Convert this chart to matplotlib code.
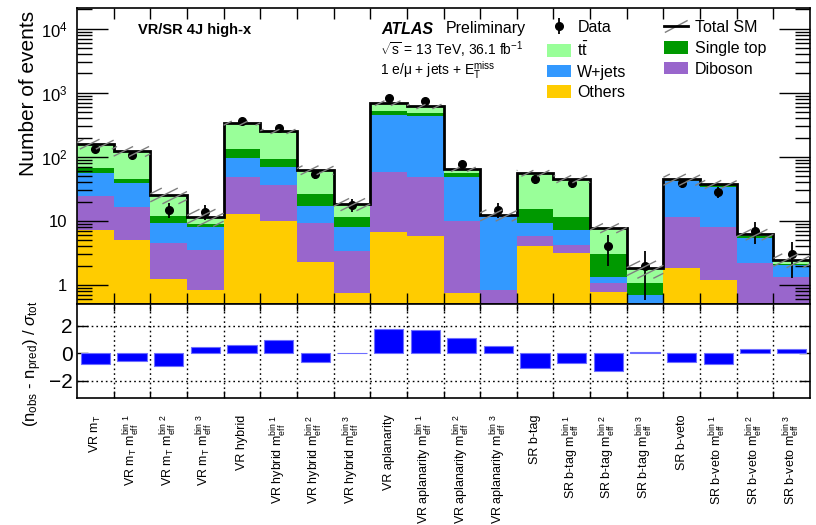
import numpy as np
import matplotlib
matplotlib.use('Agg')
import matplotlib.pyplot as plt
from matplotlib.patches import Patch
from matplotlib.lines import Line2D
from matplotlib.collections import LineCollection
from matplotlib.transforms import IdentityTransform
from matplotlib.ticker import LogLocator, FixedLocator, NullFormatter
from matplotlib.legend_handler import HandlerBase

plt.rcParams['font.family'] = ['Liberation Sans', 'DejaVu Sans']
plt.rcParams['mathtext.fontset'] = 'custom'
plt.rcParams['mathtext.rm'] = 'Liberation Sans'
plt.rcParams['mathtext.it'] = 'Liberation Sans:italic'
plt.rcParams['mathtext.bf'] = 'Liberation Sans:bold'

# ---------------- data ----------------
categories = [
    r'VR m$_{\mathrm{T}}$',
    r'VR m$_{\mathrm{T}}$ m$_{\mathrm{eff}}^{\mathrm{bin\ 1}}$',
    r'VR m$_{\mathrm{T}}$ m$_{\mathrm{eff}}^{\mathrm{bin\ 2}}$',
    r'VR m$_{\mathrm{T}}$ m$_{\mathrm{eff}}^{\mathrm{bin\ 3}}$',
    'VR hybrid',
    r'VR hybrid m$_{\mathrm{eff}}^{\mathrm{bin\ 1}}$',
    r'VR hybrid m$_{\mathrm{eff}}^{\mathrm{bin\ 2}}$',
    r'VR hybrid m$_{\mathrm{eff}}^{\mathrm{bin\ 3}}$',
    'VR aplanarity',
    r'VR aplanarity m$_{\mathrm{eff}}^{\mathrm{bin\ 1}}$',
    r'VR aplanarity m$_{\mathrm{eff}}^{\mathrm{bin\ 2}}$',
    r'VR aplanarity m$_{\mathrm{eff}}^{\mathrm{bin\ 3}}$',
    'SR b-tag',
    r'SR b-tag m$_{\mathrm{eff}}^{\mathrm{bin\ 1}}$',
    r'SR b-tag m$_{\mathrm{eff}}^{\mathrm{bin\ 2}}$',
    r'SR b-tag m$_{\mathrm{eff}}^{\mathrm{bin\ 3}}$',
    'SR b-veto',
    r'SR b-veto m$_{\mathrm{eff}}^{\mathrm{bin\ 1}}$',
    r'SR b-veto m$_{\mathrm{eff}}^{\mathrm{bin\ 2}}$',
    r'SR b-veto m$_{\mathrm{eff}}^{\mathrm{bin\ 3}}$',
]

others    = [7.2, 5.05, 1.26, 0.82, 12.9, 10.0, 2.3, 0.76, 6.66, 5.9, 0.74, 0.3, 4.07, 3.13, 0.78, 0.2, 1.82, 1.2, 0.3, 0.3]
diboson   = [17.4, 11.35, 3.22, 2.7, 36.4, 26.5, 6.9, 2.68, 51.6, 42.1, 9.06, 0.54, 1.83, 1.07, 0.28, 0.2, 9.58, 6.7, 1.88, 1.05]
wjets     = [32.3, 23.3, 4.92, 4.63, 46.0, 34.1, 7.9, 4.53, 395.0, 389.0, 38.2, 10.96, 3.3, 3.0, 0.26, 0.3, 29.8, 26.5, 3.24, 0.7]
singletop = [9.6, 5.6, 2.4, 0.83, 36.7, 22.4, 9.3, 3.33, 58.0, 44.0, 7.6, 0.2, 6.2, 4.2, 1.73, 0.36, 1.3, 1.6, 0.41, 0.1]
ttbar     = [93.5, 77.7, 13.7, 2.72, 204.0, 156.0, 36.2, 7.1, 179.0, 130.0, 8.4, 0.4, 40.2, 33.9, 4.75, 0.76, 2.3, 1.4, 0.37, 0.31]
total_unc = [28, 22, 7, 3.5, 25, 20, 10, 4, 60, 50, 5, 2.5, 6, 6, 1.3, 0.55, 9, 5.5, 1.2, 0.6]
data      = [133, 105, 15, 14, 356, 281, 53, 18, 826, 732, 77, 15, 45, 39, 4, 2, 39, 28, 7, 3]
pulls     = [-0.77, -0.58, -0.92, 0.43, 0.60, 0.96, -0.60, 0.05, 1.73, 1.66, 1.13, 0.53,
             -1.04, -0.72, -1.25, 0.10, -0.60, -0.77, 0.34, 0.29]

colors = {
    'Others': '#ffcc00',
    'Diboson': '#9966cc',
    'W+jets': '#3399ff',
    'Single top': '#009900',
    'ttbar': '#99ff99',
}

n = len(categories)
edges = np.arange(n + 1)
centers = edges[:-1] + 0.5

# ---------------- figure ----------------
fig = plt.figure(figsize=(8.16, 5.25), dpi=100)
L, R = 77 / 816, 810 / 816
ax = fig.add_axes([L, 1 - 304 / 525, R - L, (304 - 8) / 525])
axr = fig.add_axes([L, 1 - 398 / 525, R - L, (398 - 304) / 525])

ax.set_yscale('log')
ax.set_xlim(0, n)
ax.set_ylim(0.505, 2.1e4)

bottom = np.full(n, 1e-3)
stack = [(others, colors['Others']), (diboson, colors['Diboson']), (wjets, colors['W+jets']),
         (singletop, colors['Single top']), (ttbar, colors['ttbar'])]
for vals, col in stack:
    vals = np.asarray(vals)
    ax.bar(edges[:-1], vals, width=1.0, bottom=bottom, align='edge', color=col, linewidth=0, zorder=1)
    bottom = bottom + vals
total = bottom - 1e-3

# hatched uncertainty band (shallow grey lines, drawn in pixel space)
unc = np.asarray(total_unc)
segs = []
slope = 0.5
spacing = 16.0
for i in range(n):
    x0, y0 = ax.transData.transform((edges[i], total[i] - unc[i]))
    x1, y1 = ax.transData.transform((edges[i + 1], total[i] + unc[i]))
    bmin = y0 - slope * x1
    bmax = y1 - slope * x0
    step = spacing * slope
    k0 = np.floor(bmin / step)
    k1 = np.ceil(bmax / step)
    for k in np.arange(k0, k1 + 1):
        b = k * step
        xa = max(x0, (y0 - b) / slope)
        xb = min(x1, (y1 - b) / slope)
        if xb - xa > 0.5:
            segs.append([(xa, slope * xa + b), (xb, slope * xb + b)])
lc = LineCollection(segs, colors='#7f7f7f', linewidths=1.0, transform=IdentityTransform(), zorder=2)
fig.add_artist(lc)

ax.stairs(total, edges, color='black', linewidth=2.0, baseline=None, zorder=3)

data_arr = np.asarray(data, dtype=float)
eb = ax.errorbar(centers, data_arr, yerr=np.sqrt(data_arr), fmt='o', color='black',
                 markersize=5.5, elinewidth=1.3, capsize=0, zorder=4)

# ticks top panel
ax.yaxis.set_major_locator(FixedLocator([1, 10, 100, 1000, 10000]))
ax.set_yticklabels(['1', '10', r'10$^{2}$', r'10$^{3}$', r'10$^{4}$'], fontsize=12)
ax.yaxis.set_minor_locator(LogLocator(base=10, subs=np.arange(2, 10), numticks=20))
ax.yaxis.set_minor_formatter(NullFormatter())
ax.tick_params(axis='y', which='major', direction='in', length=22, width=1, left=True, right=True, pad=7)
ax.tick_params(axis='y', which='minor', direction='in', length=11, width=1, left=True, right=True)
ax.set_xticks(edges[1:-1])
ax.tick_params(axis='x', which='major', direction='in', length=8, width=1, top=True, bottom=True, labelbottom=False)
for s in ax.spines.values():
    s.set_linewidth(1.2)

fig.text(28 / 816, 1 - 93 / 525, 'Number of events', rotation=90, ha='center', va='center', fontsize=15)

# annotation texts
fig.text(138 / 816, 1 - 30 / 525, 'VR/SR 4J high-x', weight='bold', fontsize=10.5, va='center')
fig.text(381 / 816, 1 - 29 / 525, 'ATLAS', weight='bold', style='italic', fontsize=11.5, va='center')
fig.text(446 / 816, 1 - 29 / 525, 'Preliminary', fontsize=11.5, va='center')
fig.text(380 / 816, 1 - 50 / 525, r'$\sqrt{\mathrm{s}}$ = 13 TeV, 36.1 fb$^{\mathrm{-1}}$', fontsize=10, va='center')
fig.text(380 / 816, 1 - 70 / 525, r'1 e/μ + jets + E$_{\mathrm{T}}^{\mathrm{miss}}$', fontsize=10, va='center')


# legend
class HatchLine:
    pass


class HandlerTotalSM(HandlerBase):
    def create_artists(self, legend, orig_handle, xdescent, ydescent, width, height, fontsize, trans):
        ymid = height / 2 - ydescent
        x0 = -xdescent
        grey = Line2D([x0 + 0.05 * width, x0 + 0.95 * width], [ymid - 0.45 * height, ymid + 0.45 * height],
                      color='#7f7f7f', lw=1.0, transform=trans)
        black = Line2D([x0, x0 + width], [ymid, ymid], color='black', lw=2.0, transform=trans)
        return [grey, black]


handles = [eb,
           Patch(facecolor=colors['ttbar']),
           Patch(facecolor=colors['W+jets']),
           Patch(facecolor=colors['Others']),
           HatchLine(),
           Patch(facecolor=colors['Single top']),
           Patch(facecolor=colors['Diboson'])]
labels = ['Data', r't$\bar{\mathrm{t}}$', 'W+jets', 'Others', 'Total SM', 'Single top', 'Diboson']
fig.legend(handles, labels, ncol=2, loc='upper left', bbox_to_anchor=(547 / 816, 1 - 20 / 525),
           frameon=False, fontsize=11.5, borderpad=0, borderaxespad=0, labelspacing=0.36,
           handlelength=1.5, handleheight=0.85, handletextpad=0.4, columnspacing=2.35,
           handler_map={HatchLine: HandlerTotalSM()})

# ---------------- pull panel ----------------
axr.set_xlim(0, n)
axr.set_ylim(-3.23, 3.56)
axr.bar(centers, pulls, width=0.8, color='#0000ff', edgecolor='#6e6eff', linewidth=0.8, zorder=2)
for yv in (2, -2):
    axr.axhline(yv, color='black', linestyle=(0, (1.2, 2.2)), linewidth=1, zorder=1)
for xv in edges[1:-1]:
    axr.axvline(xv, color='black', linestyle=(0, (1.2, 2.2)), linewidth=1, zorder=1)
axr.set_yticks([-2, 0, 2])
axr.set_yticklabels(['\u22122', '0', '2'], fontsize=15)
axr.tick_params(axis='y', which='major', direction='in', length=8, width=1, left=True, right=True, pad=3)
axr.set_xticks(edges[1:-1])
axr.tick_params(axis='x', which='major', direction='in', length=5, width=1, top=True, bottom=True, labelbottom=False)
axr.set_xticks(centers, minor=True)
axr.set_xticklabels(categories, minor=True, rotation=90, va='top', ha='center', fontsize=9)
axr.tick_params(axis='x', which='minor', length=0, pad=12)
for s in axr.spines.values():
    s.set_linewidth(1.2)

fig.text(33 / 816, 1 - 364 / 525, r'(n$_{\mathrm{obs}}$ - n$_{\mathrm{pred}}$) / $\sigma_{\mathrm{tot}}$',
         rotation=90, ha='center', va='center', fontsize=12)

fig.savefig('out.png', dpi=100)
